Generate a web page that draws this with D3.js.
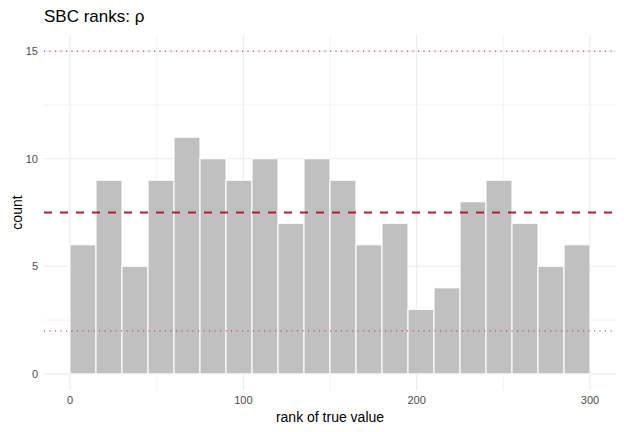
<!DOCTYPE html>
<html>
<head>
<meta charset="utf-8">
<script src="https://cdn.jsdelivr.net/npm/d3@7"></script>
<style>
  body { margin: 0; background: #fff; }
  text { font-family: "Liberation Sans", Arial, sans-serif; }
</style>
</head>
<body>
<div id="chart"></div>
<script>
const binWidth = 15;
const binStarts = d3.range(0, 300, binWidth);
const counts = [6, 9, 5, 9, 11, 10, 9, 10, 7, 10, 9, 6, 7, 3, 4, 8, 9, 7, 5, 6];
const xTicks = [0, 100, 200, 300];
const xMinor = [50, 150, 250];
const yTicks = [0, 5, 10, 15];
const yMinor = [2.5, 7.5, 12.5];
const meanLine = 7.5;
const bandLines = [2, 15];

const W = 624, H = 432;
const margin = { top: 35, right: 8, bottom: 42, left: 44 };
const width = W - margin.left - margin.right,
      height = H - margin.top - margin.bottom;

const svg = d3.select('#chart').append('svg')
  .attr('width', W)
  .attr('height', H);

const x = d3.scaleLinear().domain([-15, 315]).range([0, width]);
const y = d3.scaleLinear().domain([-0.75, 15.75]).range([height, 0]);

const g = svg.append('g')
  .attr('transform', 'translate(' + margin.left + ',' + margin.top + ')');

// grid
g.selectAll('line.ymin').data(yMinor).enter().append('line')
  .attr('x1', 0).attr('x2', width)
  .attr('y1', d => y(d)).attr('y2', d => y(d))
  .attr('stroke', '#ebebeb').attr('stroke-width', 0.6);
g.selectAll('line.xmin').data(xMinor).enter().append('line')
  .attr('y1', 0).attr('y2', height)
  .attr('x1', d => x(d)).attr('x2', d => x(d))
  .attr('stroke', '#ebebeb').attr('stroke-width', 0.6);
g.selectAll('line.ymaj').data(yTicks).enter().append('line')
  .attr('x1', 0).attr('x2', width)
  .attr('y1', d => y(d)).attr('y2', d => y(d))
  .attr('stroke', '#ebebeb').attr('stroke-width', 1.1);
g.selectAll('line.xmaj').data(xTicks).enter().append('line')
  .attr('y1', 0).attr('y2', height)
  .attr('x1', d => x(d)).attr('x2', d => x(d))
  .attr('stroke', '#ebebeb').attr('stroke-width', 1.1);

// bars
g.selectAll('rect.bar').data(counts).enter().append('rect')
  .attr('x', (d, i) => x(binStarts[i]))
  .attr('y', d => y(d))
  .attr('width', x(binWidth) - x(0))
  .attr('height', d => y(0) - y(d))
  .attr('fill', '#c0c0c0')
  .attr('stroke', '#fff')
  .attr('stroke-width', 1.1);

// reference lines
g.selectAll('line.band').data(bandLines).enter().append('line')
  .attr('x1', 0).attr('x2', width)
  .attr('y1', d => y(d)).attr('y2', d => y(d))
  .attr('stroke', '#c0303f').attr('stroke-opacity', 0.85)
  .attr('stroke-width', 1.1)
  .attr('stroke-dasharray', '1.1,4.4');
g.append('line')
  .attr('x1', 0).attr('x2', width)
  .attr('y1', y(meanLine)).attr('y2', y(meanLine))
  .attr('stroke', '#b81c2c')
  .attr('stroke-width', 2)
  .attr('stroke-dasharray', '8,8');

// tick labels
g.selectAll('text.yt').data(yTicks).enter().append('text')
  .attr('x', -6).attr('y', d => y(d)).attr('dy', '0.35em')
  .attr('text-anchor', 'end')
  .attr('font-size', 11).attr('fill', '#4d4d4d')
  .text(d => d);
g.selectAll('text.xt').data(xTicks).enter().append('text')
  .attr('x', d => x(d)).attr('y', height + 14)
  .attr('text-anchor', 'middle')
  .attr('font-size', 11).attr('fill', '#4d4d4d')
  .text(d => d);

// axis titles
svg.append('text')
  .attr('x', margin.left + width / 2).attr('y', 422)
  .attr('text-anchor', 'middle')
  .attr('font-size', 14).attr('fill', '#000')
  .text('rank of true value');
svg.append('text')
  .attr('transform', 'translate(22,' + (margin.top + height / 2) + ') rotate(-90)')
  .attr('text-anchor', 'middle')
  .attr('font-size', 14).attr('fill', '#000')
  .text('count');

// title
svg.append('text')
  .attr('x', margin.left).attr('y', 22)
  .attr('font-size', 17).attr('fill', '#000')
  .text('SBC ranks: ρ');
</script>
</body>
</html>
